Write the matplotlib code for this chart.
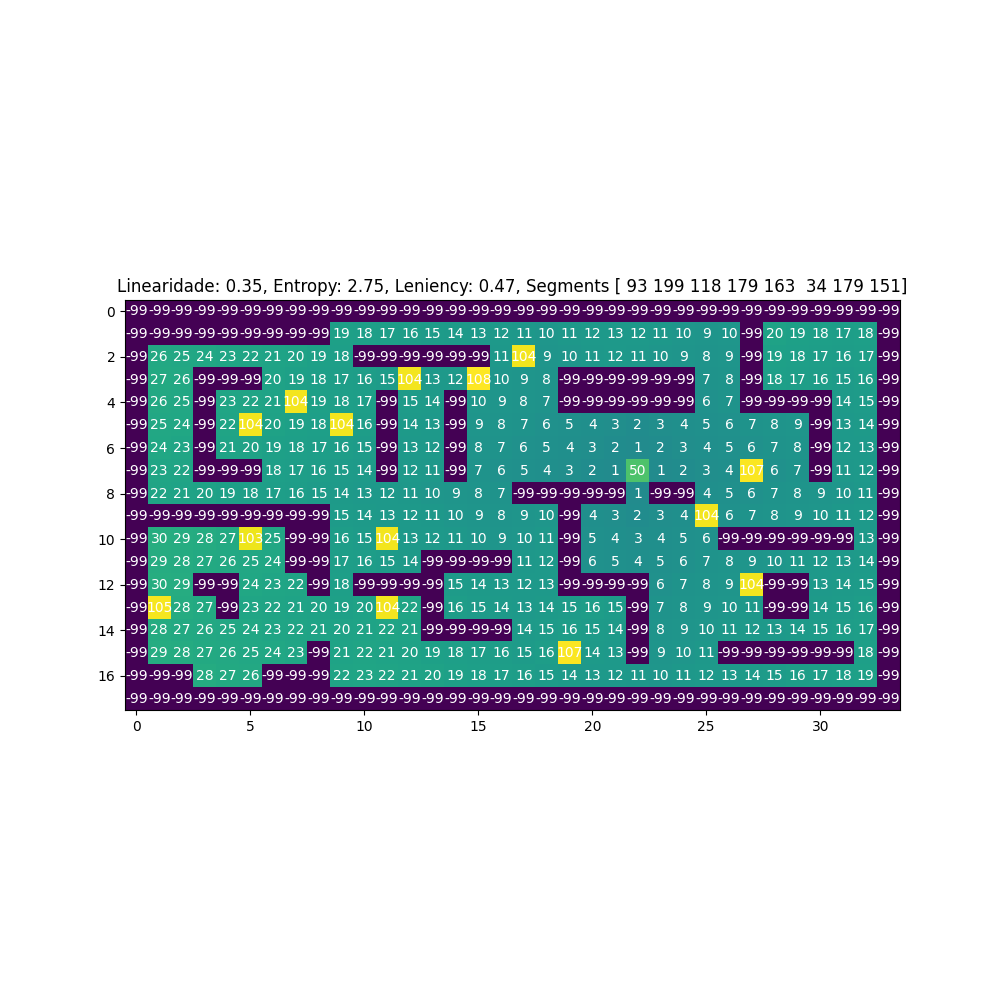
import numpy as np
import matplotlib
matplotlib.use("Agg")
import matplotlib.pyplot as plt

W = -99
row0 = [W]*34
row1 = [W]*9 + [19, 18, 17, 16, 15, 14, 13, 12, 11, 10, 11, 12, 13, 12, 11, 10, 9, 10, W, 20, 19, 18, 17, 18, W]
row2 = [W, 26, 25, 24, 23, 22, 21, 20, 19, 18] + [W]*6 + [11, 104, 9, 10, 11, 12, 11, 10, 9, 8, 9, W, 19, 18, 17, 16, 17, W]
row3 = [W, 27, 26, W, W, W, 20, 19, 18, 17, 16, 15, 104, 13, 12, 108, 10, 9, 8] + [W]*6 + [7, 8, W, 18, 17, 16, 15, 16, W]
row4 = [W, 26, 25, W, 23, 22, 21, 104, 19, 18, 17, W, 15, 14, W, 10, 9, 8, 7] + [W]*6 + [6, 7, W, W, W, W, 14, 15, W]
row5 = [W, 25, 24, W, 22, 104, 20, 19, 18, 104, 16, W, 14, 13, W, 9, 8, 7, 6, 5, 4, 3, 2, 3, 4, 5, 6, 7, 8, 9, W, 13, 14, W]
row6 = [W, 24, 23, W, 21, 20, 19, 18, 17, 16, 15, W, 13, 12, W, 8, 7, 6, 5, 4, 3, 2, 1, 2, 3, 4, 5, 6, 7, 8, W, 12, 13, W]
row7 = [W, 23, 22, W, W, W, 18, 17, 16, 15, 14, W, 12, 11, W, 7, 6, 5, 4, 3, 2, 1, 50, 1, 2, 3, 4, 107, 6, 7, W, 11, 12, W]
row8 = [W, 22, 21, 20, 19, 18, 17, 16, 15, 14, 13, 12, 11, 10, 9, 8, 7] + [W]*5 + [1, W, W, 4, 5, 6, 7, 8, 9, 10, 11, W]
row9 = [W]*9 + [15, 14, 13, 12, 11, 10, 9, 8, 9, 10, W, 4, 3, 2, 3, 4, 104, 6, 7, 8, 9, 10, 11, 12, W]
row10 = [W, 30, 29, 28, 27, 103, 25, W, W, 16, 15, 104, 13, 12, 11, 10, 9, 10, 11, W, 5, 4, 3, 4, 5, 6] + [W]*6 + [13, W]
row11 = [W, 29, 28, 27, 26, 25, 24, W, W, 17, 16, 15, 14, W, W, W, W, 11, 12, W, 6, 5, 4, 5, 6, 7, 8, 9, 10, 11, 12, 13, 14, W]
row12 = [W, 30, 29, W, W, 24, 23, 22, W, 18, W, W, W, W, 15, 14, 13, 12, 13, W, W, W, W, 6, 7, 8, 9, 104, W, W, 13, 14, 15, W]
row13 = [W, 105, 28, 27, W, 23, 22, 21, 20, 19, 20, 104, 22, W, 16, 15, 14, 13, 14, 15, 16, 15, W, 7, 8, 9, 10, 11, W, W, 14, 15, 16, W]
row14 = [W, 28, 27, 26, 25, 24, 23, 22, 21, 20, 21, 22, 21, W, W, W, W, 14, 15, 16, 15, 14, W, 8, 9, 10, 11, 12, 13, 14, 15, 16, 17, W]
row15 = [W, 29, 28, 27, 26, 25, 24, 23, W, 21, 22, 21, 20, 19, 18, 17, 16, 15, 16, 107, 14, 13, W, 9, 10, 11] + [W]*6 + [18, W]
row16 = [W, W, W, 28, 27, 26, W, W, W, 22, 23, 22, 21, 20, 19, 18, 17, 16, 15, 14, 13, 12, 11, 10, 11, 12, 13, 14, 15, 16, 17, 18, 19, W]
row17 = [W]*34

grid = np.array([row0, row1, row2, row3, row4, row5, row6, row7, row8, row9,
                 row10, row11, row12, row13, row14, row15, row16, row17])

linearity = 0.35
entropy = 2.75
leniency = 0.47
segments = np.array([93, 199, 118, 179, 163, 34, 179, 151])

fig = plt.figure(figsize=(10, 10), dpi=100)
ax = fig.add_subplot(111)
ax.imshow(grid, cmap="viridis")
for i in range(grid.shape[0]):
    for j in range(grid.shape[1]):
        ax.text(j, i, str(grid[i, j]), ha="center", va="center", color="w", fontsize=10)
ax.set_title(f"Linearidade: {linearity}, Entropy: {entropy}, Leniency: {leniency}, Segments {segments}")
fig.savefig("out.png", dpi=100)
